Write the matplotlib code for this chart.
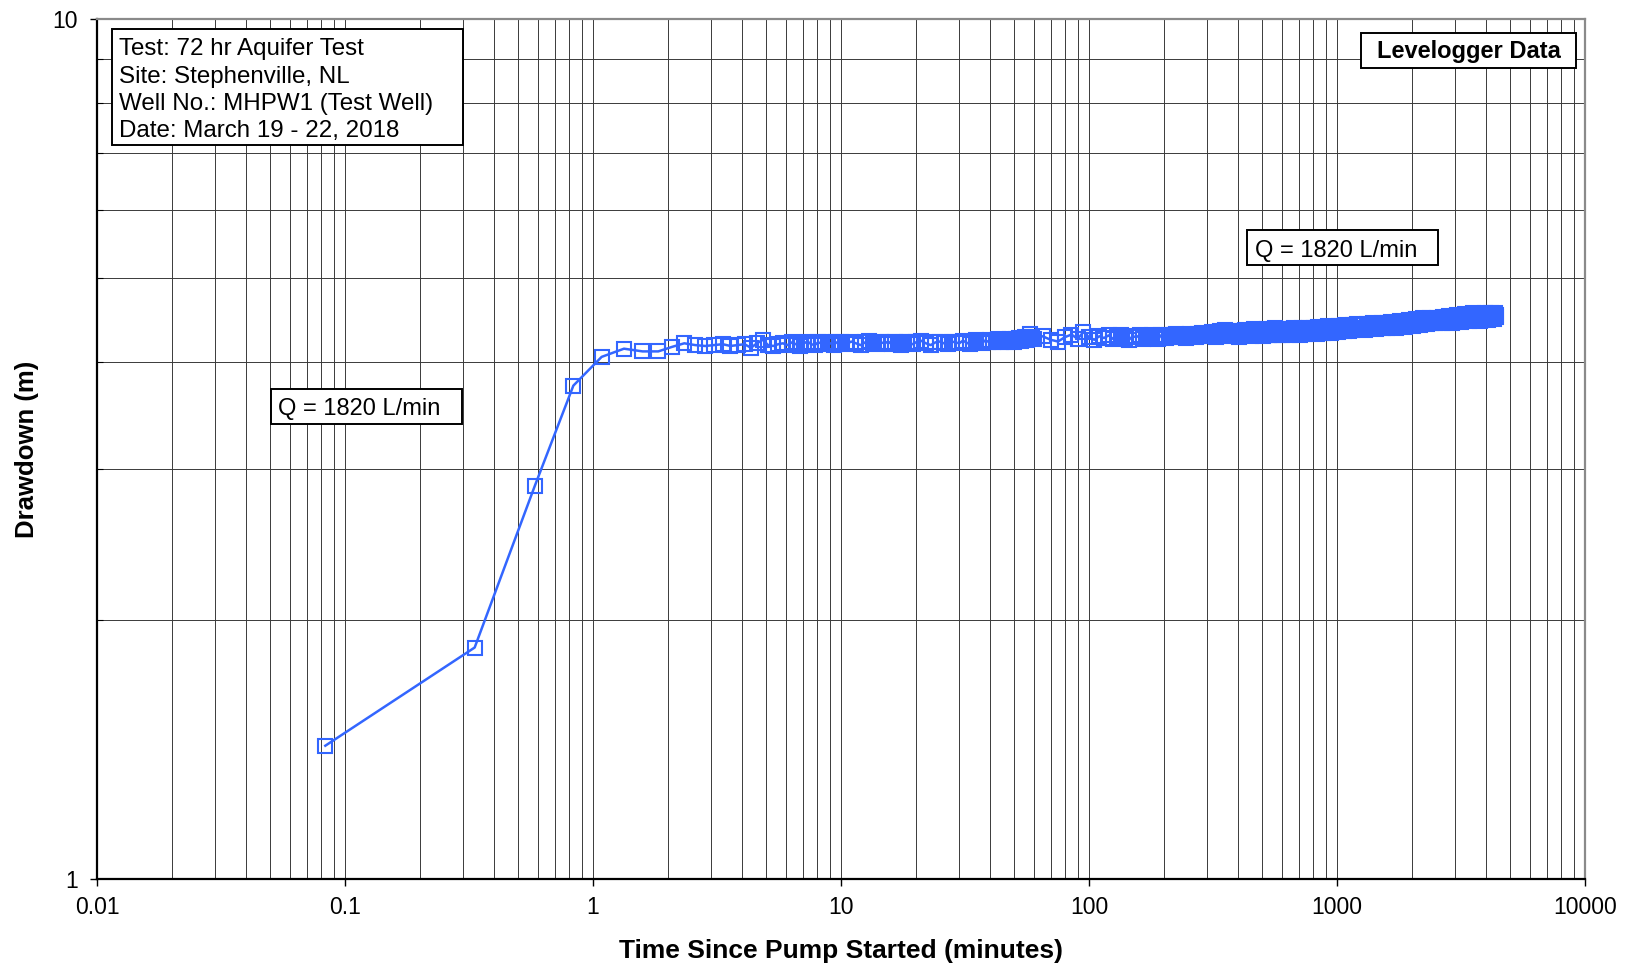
import matplotlib
matplotlib.use("Agg")
import matplotlib.pyplot as plt
from matplotlib.ticker import FixedLocator, FixedFormatter, LogLocator, NullFormatter
from matplotlib.patches import Rectangle

plt.rcParams['font.family'] = ['Liberation Sans', 'DejaVu Sans']

# --- readings: time (min) / drawdown (m) ---
# first 10 minutes, 15 s logger interval
t_early = [0.0833, 0.3333, 0.5833, 0.8333, 1.0833, 1.3333, 1.5833, 1.8333, 2.0833, 2.3333,
           2.5833, 2.8333, 3.0833, 3.3333, 3.5833, 3.8333, 4.0833, 4.3333, 4.5833, 4.8333,
           5.0833, 5.3333, 5.5833, 5.8333, 6.0833, 6.3333, 6.5833, 6.8333, 7.0833, 7.3333,
           7.5833, 7.8333, 8.0833, 8.3333, 8.5833, 8.8333, 9.0833, 9.3333, 9.5833, 9.8333]
s_early = [1.43, 1.86, 2.87, 3.75, 4.05, 4.14, 4.11, 4.11, 4.16, 4.20,
           4.18, 4.17, 4.18, 4.19, 4.17, 4.18, 4.19, 4.15, 4.20, 4.24,
           4.18, 4.17, 4.19, 4.20, 4.18, 4.21, 4.19, 4.17, 4.20, 4.22,
           4.19, 4.18, 4.21, 4.20, 4.22, 4.19, 4.20, 4.18, 4.21, 4.20]

# 10 - 60 min
t_mid = [10.0, 10.5, 11.0, 11.5, 12.0, 12.5, 13.0, 13.5, 14.0, 14.5, 15.0, 15.5, 16.0, 16.5,
         17.0, 17.5, 18.0, 18.5, 19.0, 19.5, 20.0,
         21, 22, 23, 24, 25, 26, 27, 28, 29, 30, 31, 32, 33, 34, 35, 36, 37, 38, 39, 40,
         41, 42, 43, 44, 45, 46, 47, 48, 49, 50, 51, 52, 53, 54, 55, 56, 57, 58, 59, 60]
s_mid = [4.21, 4.19, 4.22, 4.20, 4.18, 4.21, 4.23, 4.20, 4.19, 4.21, 4.20, 4.22, 4.19, 4.21,
         4.20, 4.18, 4.21, 4.22, 4.20, 4.19, 4.21,
         4.23, 4.20, 4.18, 4.21, 4.22, 4.20, 4.19, 4.22, 4.21, 4.20,
         4.23, 4.21, 4.19, 4.22, 4.24, 4.21, 4.20, 4.23, 4.22, 4.24,
         4.21, 4.23, 4.25, 4.22, 4.24, 4.23, 4.21, 4.25, 4.24, 4.22,
         4.25, 4.26, 4.23, 4.25, 4.27, 4.24, 4.26, 4.31, 4.27, 4.25]

# 65 - 300 min
t_late = [65, 70, 75, 80, 85, 90, 95, 100, 105, 110, 115, 120, 125, 130, 135, 140, 145, 150,
          155, 160, 165, 170, 175, 180, 185, 190, 195, 200, 205, 210, 215, 220, 225, 230,
          235, 240, 245, 250, 255, 260, 265, 270, 275, 280, 285, 290, 295, 300]
s_late = [4.28, 4.24, 4.22, 4.27, 4.30, 4.25, 4.33, 4.27, 4.24, 4.28,
          4.26, 4.29, 4.25, 4.27, 4.30, 4.26, 4.24, 4.28, 4.27, 4.29,
          4.25, 4.28, 4.26, 4.30, 4.27, 4.25, 4.29, 4.28, 4.26, 4.30,
          4.27, 4.29, 4.31, 4.27, 4.28, 4.30, 4.26, 4.29, 4.31, 4.28,
          4.30, 4.27, 4.31, 4.29, 4.32, 4.28, 4.30, 4.31]

# 300 - 4380 min
t_tail = [306, 312, 318, 324, 330, 336, 342, 348, 354, 360, 366, 372, 378, 384, 390, 396, 402,
          408, 414, 420, 426, 432, 438, 444, 450, 456, 462, 468, 474, 480, 486, 492, 498, 504,
          510, 516, 522, 528, 534, 540, 546, 552, 558, 564, 570, 576, 582, 588, 594, 600,
          612, 624, 636, 648, 660, 672, 684, 696, 708, 720, 732, 744, 756, 768, 780, 792, 804,
          816, 828, 840, 852, 864, 876, 888, 900, 912, 924, 936, 948, 960, 972, 984, 996, 1008,
          1020, 1032, 1044, 1056, 1068, 1080, 1092, 1104, 1116, 1128, 1140, 1152, 1164, 1176,
          1188, 1200,
          1224, 1248, 1272, 1296, 1320, 1344, 1368, 1392, 1416, 1440, 1464, 1488, 1512, 1536,
          1560, 1584, 1608, 1632, 1656, 1680, 1704, 1728, 1752, 1776, 1800, 1824, 1848, 1872,
          1896, 1920, 1944, 1968, 1992, 2016, 2040, 2064, 2088, 2112, 2136, 2160, 2184, 2208,
          2232, 2256, 2280, 2304, 2328, 2352, 2376, 2400,
          2440, 2480, 2520, 2560, 2600, 2640, 2680, 2720, 2760, 2800, 2840, 2880, 2920, 2960,
          3000, 3040, 3080, 3120, 3160, 3200, 3240, 3280, 3320, 3360, 3400, 3440, 3480, 3520,
          3560, 3600, 3640, 3680, 3720, 3760, 3800, 3840, 3880, 3920, 3960, 4000, 4040, 4080,
          4120, 4160, 4200, 4240, 4280, 4320, 4360, 4380]
s_tail = [4.28, 4.33, 4.30, 4.27, 4.32, 4.34, 4.29, 4.31, 4.35, 4.28,
          4.32, 4.30, 4.34, 4.29, 4.33, 4.31, 4.27, 4.34, 4.32, 4.30,
          4.35, 4.29, 4.33, 4.31, 4.28, 4.34, 4.36, 4.30, 4.32, 4.29,
          4.35, 4.33, 4.30, 4.28, 4.34, 4.32, 4.36, 4.31, 4.29, 4.33,
          4.35, 4.30, 4.32, 4.37, 4.31, 4.29, 4.34, 4.33, 4.36, 4.30,
          4.31, 4.36, 4.33, 4.29, 4.35, 4.38, 4.32, 4.34, 4.30, 4.37,
          4.33, 4.36, 4.31, 4.38, 4.34, 4.32, 4.37, 4.35, 4.31, 4.39,
          4.34, 4.36, 4.32, 4.38, 4.35, 4.33, 4.40, 4.36, 4.32, 4.37,
          4.39, 4.34, 4.36, 4.33, 4.40, 4.37, 4.35, 4.38, 4.34, 4.41,
          4.36, 4.38, 4.34, 4.40, 4.37, 4.35, 4.41, 4.38, 4.36, 4.42,
          4.36, 4.41, 4.38, 4.35, 4.42, 4.39, 4.37, 4.43, 4.40, 4.36,
          4.42, 4.39, 4.44, 4.38, 4.41, 4.37, 4.43, 4.40, 4.45, 4.39,
          4.42, 4.38, 4.44, 4.41, 4.46, 4.40, 4.43, 4.39, 4.45, 4.42,
          4.47, 4.41, 4.44, 4.40, 4.46, 4.43, 4.48, 4.42, 4.45, 4.41,
          4.47, 4.44, 4.49, 4.43, 4.46, 4.42, 4.48, 4.45, 4.50, 4.44,
          4.47, 4.43, 4.50, 4.45, 4.48, 4.44, 4.51, 4.46, 4.49, 4.45,
          4.52, 4.47, 4.44, 4.50, 4.48, 4.53, 4.46, 4.49, 4.45, 4.51,
          4.48, 4.54, 4.47, 4.50, 4.46, 4.52, 4.49, 4.55, 4.48, 4.51,
          4.47, 4.53, 4.50, 4.46, 4.54, 4.49, 4.52, 4.48, 4.55, 4.50,
          4.53, 4.47, 4.51, 4.56, 4.49, 4.52, 4.48, 4.55, 4.51, 4.53]

time_min = t_early + t_mid + t_late + t_tail
drawdown = s_early + s_mid + s_late + s_tail

x_ticks = [0.01, 0.1, 1, 10, 100, 1000, 10000]
x_labels = ['0.01', '0.1', '1', '10', '100', '1000', '10000']
y_ticks = [1, 10]
y_labels = ['1', '10']

info_lines = ['Test: 72 hr Aquifer Test', 'Site: Stephenville, NL',
              'Well No.: MHPW1 (Test Well)', 'Date: March 19 - 22, 2018']
rate_label = 'Q = 1820 L/min'

BLUE = '#3366FF'

fig = plt.figure(figsize=(16.33, 9.66), dpi=100)
ax = fig.add_axes([97 / 1633, 1 - 879.3 / 966, 1488 / 1633, 860 / 966])

ax.plot(time_min, drawdown, color=BLUE, lw=1.8, marker='s', ms=10,
        mfc='none', mec=BLUE, mew=1.5, zorder=3)

ax.set_xscale('log')
ax.set_yscale('log')
ax.set_xlim(0.01, 10000)
ax.set_ylim(1, 10)

ax.xaxis.set_major_locator(FixedLocator(x_ticks))
ax.xaxis.set_major_formatter(FixedFormatter(x_labels))
ax.yaxis.set_major_locator(FixedLocator(y_ticks))
ax.yaxis.set_major_formatter(FixedFormatter(y_labels))
for axis in (ax.xaxis, ax.yaxis):
    axis.set_minor_locator(LogLocator(base=10, subs=range(2, 10)))
    axis.set_minor_formatter(NullFormatter())

ax.grid(which='both', color='#3a3a3a', lw=0.7)
ax.set_axisbelow(True)

ax.tick_params(axis='x', which='major', direction='out', length=5, width=1,
               labelsize=16.5, pad=7)
ax.tick_params(axis='x', which='minor', length=0)
ax.tick_params(axis='y', which='major', direction='out', length=5, width=1,
               labelsize=16.5, pad=9)
ax.tick_params(axis='y', which='minor', direction='in', length=4, width=0.8)

for side in ('left', 'bottom'):
    ax.spines[side].set_color('black')
    ax.spines[side].set_linewidth(1.6)
for side in ('top', 'right'):
    ax.spines[side].set_color('#8a8a8a')
    ax.spines[side].set_linewidth(1.6)

ax.set_xlabel('Time Since Pump Started (minutes)', fontsize=19, fontweight='bold')
ax.xaxis.set_label_coords(0.5, -0.069)
ax.set_ylabel('Drawdown (m)', fontsize=18.5, fontweight='bold')
ax.yaxis.set_label_coords(-0.039, 0.5)


def draw_box(x0, y0, w, h):
    ax.add_patch(Rectangle((x0, y0), w, h, transform=ax.transAxes, facecolor='white',
                           edgecolor='black', lw=1.4, zorder=5))


def put_text(tx, ty, text, size=17, **kw):
    ax.text(tx, ty, text, transform=ax.transAxes, va='baseline', ha='left',
            fontsize=size, zorder=6, **kw)


# site info box, one text per line
draw_box(0.0099, 0.8538, 0.2359, 0.1346)
for line, ty in zip(info_lines, [0.9585, 0.9265, 0.8945, 0.8635]):
    put_text(0.0150, ty, line, size=17.4)

draw_box(0.8495, 0.9430, 0.1445, 0.0414)
put_text(0.8600, 0.9553, 'Levelogger Data', fontweight='bold')

draw_box(0.1167, 0.5294, 0.1284, 0.0407)
put_text(0.1218, 0.5399, rate_label)

draw_box(0.7727, 0.7143, 0.1287, 0.0407)
put_text(0.7782, 0.7233, rate_label)

fig.savefig('out.png', dpi=100)
